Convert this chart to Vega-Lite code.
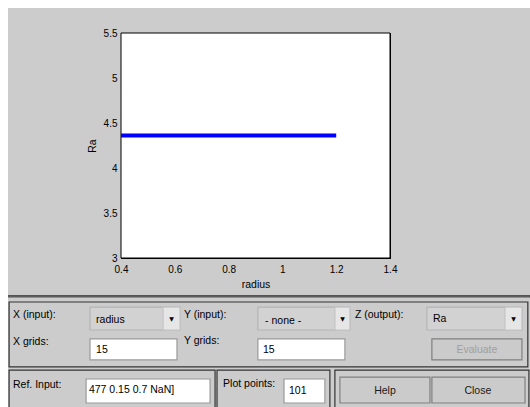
{
  "$schema": "https://vega.github.io/schema/vega-lite/v6.json",
  "background": "white",
  "padding": {"left": 8, "top": 8, "right": 0, "bottom": 0},
  "spacing": 0,
  "config": {
    "view": {"fill": "#cccccc", "stroke": null},
    "font": "Liberation Sans",
    "axis": {"domainColor": "#000000", "tickColor": "#000000", "labelColor": "#000000", "titleColor": "#000000", "labelFont": "Liberation Sans", "titleFont": "Liberation Sans", "labelFontSize": 10, "titleFontSize": 10.5, "titleFontWeight": "normal", "grid": false, "tickSize": -4, "labelOverlap": false, "labelFlush": false, "format": "~g"}
  },
  "vconcat": [
    {
      "width": 522,
      "height": 287,
      "layer": [
        {
          "data": {"values": [{"xmin": 0.4, "xmax": 1.4, "ymin": 3, "ymax": 5.5}]},
          "mark": {"type": "rect", "fill": "#ffffff", "stroke": "#000000", "strokeWidth": 1},
          "encoding": {
            "x": {"field": "xmin", "type": "quantitative", "scale": {"domain": [0.4, 1.4], "range": [113, 382], "nice": false, "zero": false}, "axis": {"orient": "bottom", "offset": -37, "title": "radius", "values": [0.4, 0.6, 0.8, 1, 1.2, 1.4], "format": "~g", "labelPadding": 10, "titlePadding": 5}},
            "x2": {"field": "xmax"},
            "y": {"field": "ymin", "type": "quantitative", "scale": {"domain": [3, 5.5], "range": [250, 25], "nice": false, "zero": false}, "axis": {"orient": "left", "offset": -113, "title": "Ra", "values": [3, 3.5, 4, 4.5, 5, 5.5], "format": "~g", "labelPadding": 8, "titlePadding": 6}},
            "y2": {"field": "ymax"}
          }
        },
        {
          "data": {"values": [
            {"radius": 0.4, "Ra": 4.36}, {"radius": 0.5, "Ra": 4.36}, {"radius": 0.6, "Ra": 4.36},
            {"radius": 0.7, "Ra": 4.36}, {"radius": 0.8, "Ra": 4.36}, {"radius": 0.9, "Ra": 4.36},
            {"radius": 1.0, "Ra": 4.36}, {"radius": 1.1, "Ra": 4.36}, {"radius": 1.2, "Ra": 4.36}
          ]},
          "mark": {"type": "line", "color": "#0000ff", "strokeWidth": 4, "strokeCap": "butt"},
          "encoding": {
            "x": {"field": "radius", "type": "quantitative", "scale": {"domain": [0.4, 1.4], "range": [113, 382], "nice": false, "zero": false}, "axis": {"orient": "top", "offset": -25, "title": null, "labels": false, "values": [0.4, 0.6, 0.8, 1, 1.2, 1.4]}},
            "y": {"field": "Ra", "type": "quantitative", "scale": {"domain": [3, 5.5], "range": [250, 25], "nice": false, "zero": false}, "axis": {"orient": "right", "offset": -140, "title": null, "labels": false, "values": [3, 3.5, 4, 4.5, 5, 5.5]}}
          }
        }
      ],
      "resolve": {"scale": {"x": "independent", "y": "independent"}, "axis": {"x": "independent", "y": "independent"}}
    },
    {
      "width": 522,
      "height": 112,
      "layer": [
        {
          "data": {"values": [
            {"kind": "sep", "u0": 0, "u1": 24, "v0": 0, "v1": 0.2},
            {"kind": "frame", "u0": 0.05, "u1": 23.9, "v0": 0.75, "v1": 7.71},
            {"kind": "frame", "u0": 0.05, "u1": 9.52, "v0": 8.04, "v1": 12.5},
            {"kind": "frame", "u0": 9.61, "u1": 14.8, "v0": 8.04, "v1": 12.5},
            {"kind": "frame", "u0": 15.03, "u1": 23.95, "v0": 8.04, "v1": 12.5},
            {"kind": "drop", "u0": 3.77, "u1": 7.91, "v0": 1.29, "v1": 3.75},
            {"kind": "drop", "u0": 11.49, "u1": 15.72, "v0": 1.29, "v1": 3.75},
            {"kind": "drop", "u0": 19.26, "u1": 23.63, "v0": 1.29, "v1": 3.75},
            {"kind": "arrow", "u0": 7.13, "u1": 7.91, "v0": 1.29, "v1": 3.75},
            {"kind": "arrow", "u0": 15.03, "u1": 15.72, "v0": 1.29, "v1": 3.75},
            {"kind": "arrow", "u0": 22.85, "u1": 23.63, "v0": 1.29, "v1": 3.75},
            {"kind": "edit", "u0": 3.77, "u1": 7.77, "v0": 4.71, "v1": 6.96},
            {"kind": "edit", "u0": 11.49, "u1": 15.49, "v0": 4.71, "v1": 6.96},
            {"kind": "button", "u0": 19.49, "u1": 23.63, "v0": 4.71, "v1": 6.96},
            {"kind": "edit", "u0": 3.59, "u1": 9.29, "v0": 9.0, "v1": 11.57},
            {"kind": "edit", "u0": 12.69, "u1": 14.57, "v0": 9.0, "v1": 11.57},
            {"kind": "button", "u0": 15.26, "u1": 19.4, "v0": 8.79, "v1": 11.57},
            {"kind": "button", "u0": 19.49, "u1": 23.77, "v0": 8.79, "v1": 11.57}
          ]},
          "mark": {"type": "rect", "strokeWidth": 1.2, "clip": true},
          "encoding": {
            "x": {"field": "u0", "type": "quantitative", "scale": {"domain": [0, 24], "nice": false, "zero": false}, "axis": null},
            "x2": {"field": "u1"},
            "y": {"field": "v0", "type": "quantitative", "scale": {"domain": [0, 12], "nice": false, "zero": false, "reverse": true}, "axis": null},
            "y2": {"field": "v1"},
            "fill": {"field": "kind", "type": "nominal", "legend": null, "scale": {"domain": ["sep", "frame", "drop", "arrow", "edit", "button"], "range": ["#555555", "transparent", "#d2d2d2", "#e6e6e6", "#ffffff", "#cbcbcb"]}},
            "stroke": {"field": "kind", "type": "nominal", "legend": null, "scale": {"domain": ["sep", "frame", "drop", "arrow", "edit", "button"], "range": ["#555555", "#333333", "#b4b4b4", "#c4c4c4", "#9a9a9a", "#808080"]}}
          }
        },
        {
          "data": {"values": [
            {"kind": "lbl", "u": 0.23, "v": 2.14, "label": "X (input):"},
            {"kind": "val", "u": 4.05, "v": 2.68, "label": "radius"},
            {"kind": "lbl", "u": 8.09, "v": 2.14, "label": "Y (input):"},
            {"kind": "val", "u": 11.82, "v": 2.79, "label": "- none -"},
            {"kind": "lbl", "u": 15.95, "v": 2.14, "label": "Z (output):"},
            {"kind": "val", "u": 19.54, "v": 2.57, "label": "Ra"},
            {"kind": "lbl", "u": 0.23, "v": 5.04, "label": "X grids:"},
            {"kind": "val", "u": 4.05, "v": 5.89, "label": "15"},
            {"kind": "lbl", "u": 8.09, "v": 4.93, "label": "Y grids:"},
            {"kind": "val", "u": 11.72, "v": 5.89, "label": "15"},
            {"kind": "lbl", "u": 0.23, "v": 9.64, "label": "Ref. Input:"},
            {"kind": "val", "u": 3.72, "v": 10.18, "label": "477 0.15 0.7 NaN]"},
            {"kind": "lbl", "u": 9.89, "v": 9.54, "label": "Plot points:"},
            {"kind": "val", "u": 12.92, "v": 10.29, "label": "101"}
          ]},
          "mark": {"type": "text", "align": "left", "baseline": "middle", "fontSize": 10.5, "font": "Liberation Sans", "color": "#000000"},
          "encoding": {
            "x": {"field": "u", "type": "quantitative", "scale": {"domain": [0, 24], "nice": false, "zero": false}, "axis": null},
            "y": {"field": "v", "type": "quantitative", "scale": {"domain": [0, 12], "nice": false, "zero": false, "reverse": true}, "axis": null},
            "text": {"field": "label"}
          }
        },
        {
          "data": {"values": [
            {"kind": "dis", "u": 21.56, "v": 5.89, "label": "Evaluate"},
            {"kind": "btn", "u": 17.33, "v": 10.29, "label": "Help"},
            {"kind": "btn", "u": 21.6, "v": 10.29, "label": "Close"}
          ]},
          "mark": {"type": "text", "align": "center", "baseline": "middle", "fontSize": 10.5, "font": "Liberation Sans"},
          "encoding": {
            "x": {"field": "u", "type": "quantitative", "scale": {"domain": [0, 24], "nice": false, "zero": false}, "axis": null},
            "y": {"field": "v", "type": "quantitative", "scale": {"domain": [0, 12], "nice": false, "zero": false, "reverse": true}, "axis": null},
            "text": {"field": "label"},
            "color": {"field": "kind", "type": "nominal", "legend": null, "scale": {"domain": ["dis", "btn"], "range": ["#a0a0a0", "#1a1a1a"]}}
          }
        },
        {
          "data": {"values": [
            {"u": 7.52, "v": 2.6, "label": "▼"},
            {"u": 15.38, "v": 2.6, "label": "▼"},
            {"u": 23.24, "v": 2.6, "label": "▼"}
          ]},
          "mark": {"type": "text", "align": "center", "baseline": "middle", "fontSize": 6, "font": "DejaVu Sans", "color": "#000000"},
          "encoding": {
            "x": {"field": "u", "type": "quantitative", "scale": {"domain": [0, 24], "nice": false, "zero": false}, "axis": null},
            "y": {"field": "v", "type": "quantitative", "scale": {"domain": [0, 12], "nice": false, "zero": false, "reverse": true}, "axis": null},
            "text": {"field": "label"}
          }
        }
      ]
    }
  ]
}
